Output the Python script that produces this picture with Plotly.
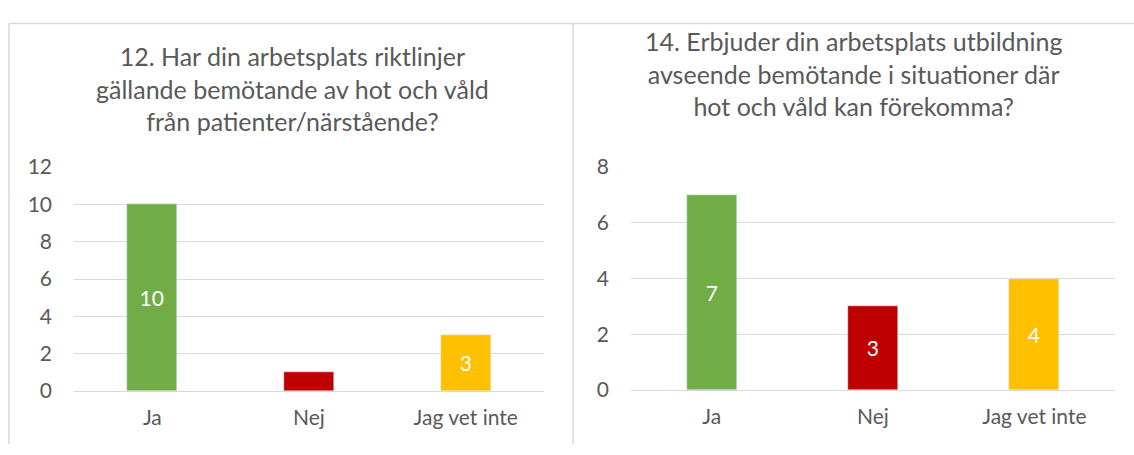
import plotly.graph_objects as go

categories = ["Ja", "Nej", "Jag vet inte"]
q12_values = [10, 1, 3]
q12_labels = ["10", "", "3"]
q14_values = [7, 3, 4]
q14_labels = ["7", "3", "4"]
bar_colors = ["#70AD47", "#C00000", "#FFC000"]
q12_title = "12. Har din arbetsplats riktlinjer<br>gällande bemötande av hot och våld<br>från patienter/närstående?"
q14_title = "14. Erbjuder din arbetsplats utbildning<br>avseende bemötande i situationer där<br>hot och våld kan förekomma?"

W, H = 1134, 455
FONT = "Lato"
TXT = "#595959"
GRID = "#D9D9D9"


def px(x):
    return x / W


def py(y):
    return (H - y) / H


fig = go.Figure()
fig.add_trace(go.Bar(
    x=categories, y=q12_values, text=q12_labels, marker_color=bar_colors,
    width=0.32, textposition="inside", insidetextanchor="middle", textangle=0,
    textfont=dict(color="white", size=21, family=FONT),
    xaxis="x", yaxis="y", hoverinfo="skip", showlegend=False,
))
fig.add_trace(go.Bar(
    x=categories, y=q14_values, text=q14_labels, marker_color=bar_colors,
    width=0.31, textposition="inside", insidetextanchor="middle", textangle=0,
    textfont=dict(color="white", size=21, family=FONT),
    xaxis="x2", yaxis="y2", hoverinfo="skip", showlegend=False,
))

xcommon = dict(type="category", range=[-0.5, 2.5], showgrid=False, zeroline=False,
               showline=False, ticks="", ticklabelstandoff=12,
               tickfont=dict(size=21, color=TXT, family=FONT), fixedrange=True)
ycommon = dict(showgrid=True, gridcolor=GRID, gridwidth=1, zeroline=True,
               zerolinecolor=GRID, zerolinewidth=1, showline=False, ticks="",
               dtick=2, ticklabelstandoff=21,
               tickfont=dict(size=21, color=TXT, family=FONT), fixedrange=True)

fig.update_layout(
    width=W, height=H, autosize=False,
    margin=dict(l=0, r=0, t=0, b=0),
    paper_bgcolor="white", plot_bgcolor="white",
    font=dict(family=FONT, color=TXT),
    bargap=0,
    xaxis=dict(xcommon, domain=[px(74), px(544)], anchor="y"),
    yaxis=dict(ycommon, domain=[py(399), py(162)], range=[0, 12], anchor="x"),
    xaxis2=dict(xcommon, domain=[px(631), px(1115)], anchor="y2"),
    yaxis2=dict(ycommon, domain=[py(398), py(162)], range=[0, 8], anchor="x2"),
    annotations=[
        dict(text=q12_title, xref="paper", yref="paper", x=px(292), y=py(78.5),
             xanchor="center", yanchor="middle", showarrow=False,
             font=dict(size=25, color=TXT, family=FONT)),
        dict(text=q14_title, xref="paper", yref="paper", x=px(853), y=py(63),
             xanchor="center", yanchor="middle", showarrow=False,
             font=dict(size=25, color=TXT, family=FONT)),
    ],
    shapes=[
        dict(type="line", xref="paper", yref="paper", x0=px(9), x1=1, y0=py(10), y1=py(10),
             line=dict(color=GRID, width=1.5)),
        dict(type="line", xref="paper", yref="paper", x0=px(9), x1=px(9), y0=py(10), y1=0,
             line=dict(color=GRID, width=1.5)),
        dict(type="line", xref="paper", yref="paper", x0=px(573), x1=px(573), y0=py(10), y1=0,
             line=dict(color=GRID, width=1.5)),
    ],
)

fig.write_html("out.html", post_script="document.body.style.margin='0px';",
               config={"displayModeBar": False})
